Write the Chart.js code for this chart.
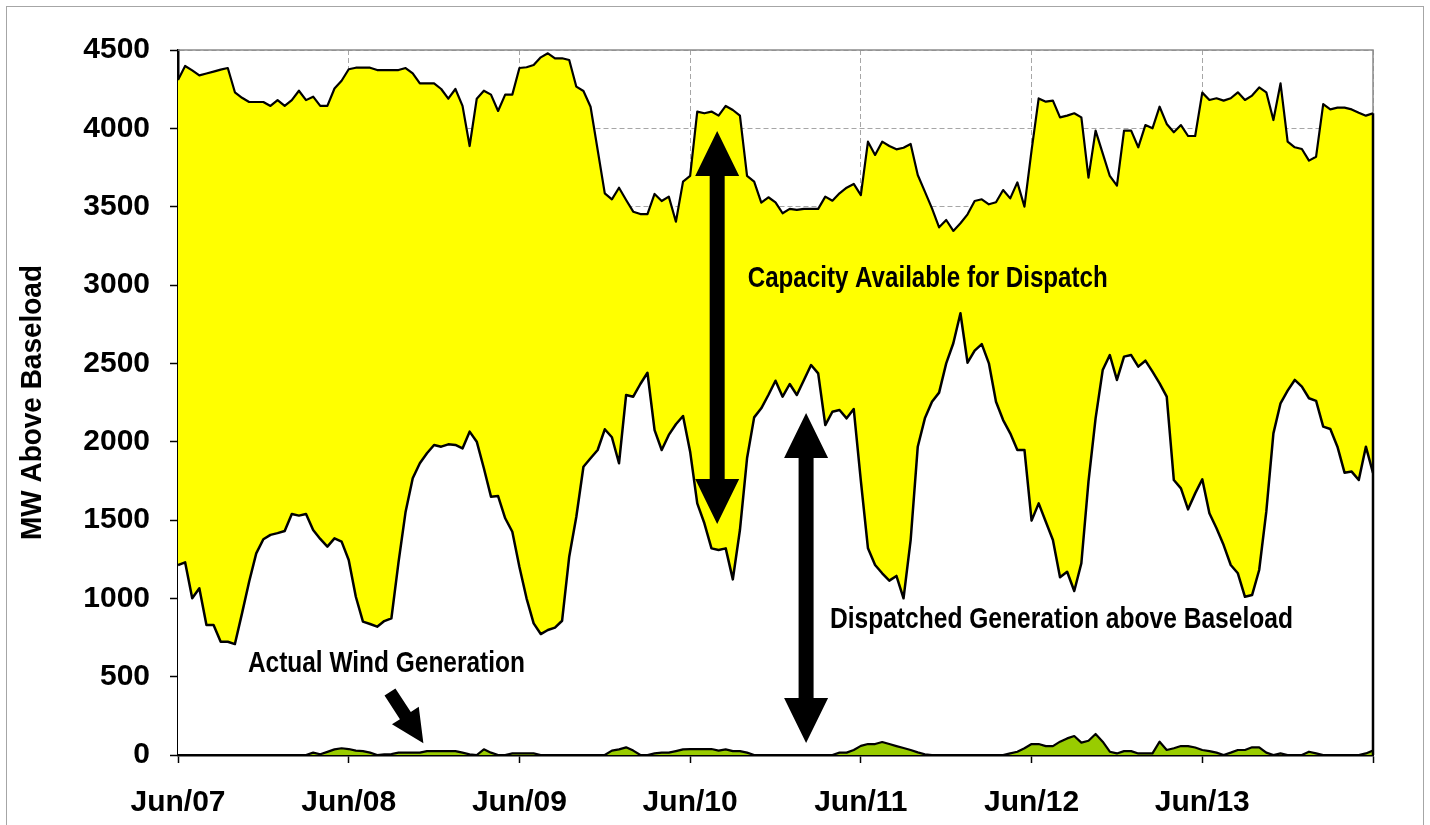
<!DOCTYPE html>
<html>
<head>
<meta charset="utf-8">
<title>MW Above Baseload</title>
<script src="https://cdn.jsdelivr.net/npm/chart.js@4.4.1/dist/chart.umd.min.js"></script>
<style>
  html, body { margin: 0; padding: 0; background: #fff; }
  #wrap { position: relative; width: 1430px; height: 825px; overflow: hidden; }
  #frame { position: absolute; left: 6px; top: 6px; width: 1418px; height: 840px; border: 1px solid #a6a6a6; box-sizing: border-box; }
  #chart { position: absolute; left: 0; top: 0; }
</style>
</head>
<body>
<div id="wrap">
  <div id="frame"></div>
  <canvas id="chart" width="1430" height="825"></canvas>
</div>
<script>
// ── Data: hourly values, Jun 7 00:00 → Jun 14 00:00 (MW above baseload) ──
const dayLabels = ['Jun/07', 'Jun/08', 'Jun/09', 'Jun/10', 'Jun/11', 'Jun/12', 'Jun/13'];

const capacity = [
  4308, 4398, 4370, 4338, 4350, 4362, 4375, 4385, 4230, 4195, 4168, 4168, 4168, 4143, 4180, 4143, 4180, 4240, 4180, 4202, 4143, 4143, 4254, 4304,
  4377, 4387, 4387, 4387, 4372, 4372, 4372, 4372, 4385, 4351, 4287, 4287, 4287, 4251, 4189, 4251, 4143, 3887, 4189, 4240, 4215, 4111, 4215, 4215,
  4385, 4390, 4404, 4453, 4479, 4447, 4447, 4436, 4266, 4238, 4138, 3862, 3585, 3547, 3621, 3543, 3468, 3453, 3453, 3581, 3536, 3564, 3404, 3660,
  3696, 4107, 4096, 4107, 4081, 4143, 4117, 4081, 3696, 3660, 3526, 3560, 3528, 3458, 3486, 3479, 3486, 3486, 3486, 3564, 3538, 3585, 3621, 3645,
  3574, 3915, 3830, 3915, 3887, 3866, 3876, 3900, 3702, 3596, 3489, 3368, 3415, 3345, 3394, 3451, 3536, 3547, 3515, 3528, 3606, 3553, 3655, 3500,
  3860, 4191, 4170, 4177, 4070, 4081, 4096, 4070, 3685, 3985, 3840, 3696, 3634, 3985, 3985, 3879, 4021, 4000, 4138, 4028, 3975, 4021, 3951, 3951,
  4228, 4181, 4192, 4177, 4192, 4230, 4181, 4209, 4261, 4230, 4053, 4287, 3915, 3879, 3868, 3794, 3819, 4155, 4121, 4132, 4132, 4121, 4100, 4081,
  4096
];

const dispatched = [
  1213, 1230, 1000, 1064, 830, 830, 723, 723, 708, 904, 1106, 1287, 1377, 1405, 1416, 1430, 1538, 1528, 1538, 1436, 1379, 1330, 1383, 1362,
  1245, 1010, 851, 836, 819, 855, 872, 1230, 1553, 1766, 1862, 1926, 1979, 1968, 1983, 1979, 1957, 2064, 2000, 1830, 1649, 1653, 1511, 1425,
  1200, 1000, 840, 772, 798, 813, 857, 1266, 1521, 1840, 1894, 1947, 2079, 2028, 1862, 2298, 2287, 2368, 2440, 2074, 1947, 2043, 2111, 2164,
  1936, 1606, 1479, 1319, 1309, 1319, 1121, 1436, 1894, 2155, 2213, 2298, 2389, 2287, 2368, 2298, 2394, 2489, 2436, 2106, 2191, 2202, 2149, 2208,
  1750, 1319, 1213, 1160, 1113, 1143, 1000, 1372, 1968, 2149, 2255, 2313, 2500, 2628, 2820, 2504, 2581, 2623, 2500, 2255, 2138, 2053, 1947, 1947,
  1496, 1606, 1489, 1372, 1134, 1170, 1047, 1224, 1745, 2149, 2457, 2553, 2394, 2543, 2553, 2479, 2517, 2447, 2372, 2287, 1755, 1702, 1568, 1670,
  1760, 1543, 1447, 1340, 1213, 1160, 1010, 1021, 1181, 1553, 2053, 2245, 2326, 2394, 2351, 2277, 2260, 2096, 2081, 1968, 1802, 1809, 1755, 1968,
  1800
];

const wind = [
  0, 0, 0, 0, 0, 0, 0, 0, 0, 0, 0, 0, 0, 0, 0, 0, 0, 0, 0, 15, 5, 20, 36, 43,
  38, 28, 25, 15, 0, 4, 6, 15, 15, 15, 15, 25, 25, 25, 25, 25, 15, 4, 0, 36, 15, 0, 0, 10,
  10, 10, 10, 0, 0, 0, 0, 0, 0, 0, 0, 0, 0, 28, 36, 49, 28, 0, 0, 10, 15, 15, 25, 36,
  38, 38, 38, 38, 28, 36, 25, 25, 15, 0, 0, 0, 0, 0, 0, 0, 0, 0, 0, 0, 0, 15, 15, 32,
  58, 70, 70, 83, 70, 57, 45, 32, 17, 4, 0, 0, 0, 0, 0, 0, 0, 0, 0, 0, 0, 10, 21, 43,
  70, 70, 57, 57, 85, 106, 121, 79, 91, 134, 85, 21, 10, 25, 25, 10, 10, 10, 85, 32, 43, 57, 57, 48,
  32, 25, 15, 0, 15, 32, 32, 49, 49, 15, 0, 10, 0, 0, 0, 21, 10, 0, 0, 0, 0, 0, 0, 10,
  28
];

// ── Annotations (placed in data coordinates: hour index / MW) ──
const notes = [
  { text: 'Capacity Available for Dispatch', x: 105.4, y: 2987, w: 360 },
  { text: 'Dispatched Generation above Baseload', x: 124.2, y: 811, w: 463 },
  { text: 'Actual Wind Generation', x: 29.3, y: 530, w: 277 }
];
const doubleArrows = [
  { x: 75.8, top: 3983, bottom: 1474 },
  { x: 88.3, top: 2183, bottom: 77 }
];
const windArrow = { x1: 29.8, y1: 402, x2: 34.5, y2: 75 };

const FONT = '"Liberation Sans", Arial, Helvetica, sans-serif';
const toPoints = arr => arr.map((v, i) => ({ x: i, y: v }));

// ── Drawing helpers ──
function arrow(ctx, x1, y1, x2, y2, shaftW, headL, headHalf) {
    const len = Math.hypot(x2 - x1, y2 - y1);
    ctx.save();
    ctx.translate(x1, y1);
    ctx.rotate(Math.atan2(y2 - y1, x2 - x1));
    ctx.beginPath();
    ctx.moveTo(0, -shaftW / 2);
    ctx.lineTo(len - headL, -shaftW / 2);
    ctx.lineTo(len - headL, -headHalf);
    ctx.lineTo(len, 0);
    ctx.lineTo(len - headL, headHalf);
    ctx.lineTo(len - headL, shaftW / 2);
    ctx.lineTo(0, shaftW / 2);
    ctx.closePath();
    ctx.fillStyle = '#000';
    ctx.fill();
    ctx.restore();
}

// vertical arrow with a head at both ends, one polygon
function doubleArrow(ctx, x, top, bottom, shaftW, headL, headHalf) {
    const s = shaftW / 2;
    ctx.save();
    ctx.beginPath();
    ctx.moveTo(x, top);
    ctx.lineTo(x + headHalf, top + headL);
    ctx.lineTo(x + s, top + headL);
    ctx.lineTo(x + s, bottom - headL);
    ctx.lineTo(x + headHalf, bottom - headL);
    ctx.lineTo(x, bottom);
    ctx.lineTo(x - headHalf, bottom - headL);
    ctx.lineTo(x - s, bottom - headL);
    ctx.lineTo(x - s, top + headL);
    ctx.lineTo(x - headHalf, top + headL);
    ctx.closePath();
    ctx.fillStyle = '#000';
    ctx.fill();
    ctx.restore();
}

function fittedText(ctx, text, cx, cy, width, size, rotate) {
    ctx.save();
    ctx.font = 'bold ' + size + 'px ' + FONT;
    const m = ctx.measureText(text).width;
    ctx.translate(cx, cy);
    if (rotate) ctx.rotate(-Math.PI / 2);
    ctx.scale(width / m, 1);
    ctx.fillStyle = '#000';
    ctx.textAlign = 'center';
    ctx.textBaseline = rotate ? 'middle' : 'alphabetic';
    ctx.fillText(text, 0, 0);
    ctx.restore();
}

const overlay = {
    id: 'overlay',
    beforeDatasetsDraw(chart) {
        const { ctx, chartArea: a } = chart;
        // grey frame on top and right of plot area
        ctx.save();
        ctx.strokeStyle = '#8c8c8c';
        ctx.lineWidth = 1.5;
        ctx.beginPath();
        ctx.moveTo(a.left, a.top);
        ctx.lineTo(a.right, a.top);
        ctx.lineTo(a.right, a.bottom);
        ctx.stroke();
        ctx.restore();
    },
    afterDatasetsDraw(chart) {
        const { ctx, chartArea: a } = chart;
        const xs = chart.scales.x, ys = chart.scales.y;
        const last = capacity.length - 1;

        // closing edge of the areas on the right
        ctx.save();
        ctx.strokeStyle = '#000';
        ctx.lineWidth = 2.5;
        ctx.beginPath();
        ctx.moveTo(xs.getPixelForValue(last), ys.getPixelForValue(capacity[last]));
        ctx.lineTo(xs.getPixelForValue(last), ys.getPixelForValue(0));
        ctx.stroke();
        ctx.restore();

        doubleArrows.forEach(d => {
            doubleArrow(ctx, xs.getPixelForValue(d.x),
                ys.getPixelForValue(d.top), ys.getPixelForValue(d.bottom), 15, 45, 22);
        });
        arrow(ctx,
            xs.getPixelForValue(windArrow.x1), ys.getPixelForValue(windArrow.y1),
            xs.getPixelForValue(windArrow.x2), ys.getPixelForValue(windArrow.y2),
            13, 33, 16);

        notes.forEach(n => {
            fittedText(ctx, n.text, xs.getPixelForValue(n.x), ys.getPixelForValue(n.y), n.w, 30, false);
        });

        // y axis title
        fittedText(ctx, 'MW Above Baseload', 33, (a.top + a.bottom) / 2, 275, 30, true);
    }
};

// ── Chart ──
const chart = new Chart(document.getElementById('chart').getContext('2d'), {
    type: 'line',
    data: {
        datasets: [
            { label: 'Capacity Available for Dispatch', data: toPoints(capacity), order: 3, fill: 'origin',
              backgroundColor: '#FFFF00', borderColor: '#000', borderWidth: 2.2 },
            { label: 'Dispatched Generation above Baseload', data: toPoints(dispatched), order: 2, fill: 'origin',
              backgroundColor: '#FFFFFF', borderColor: '#000', borderWidth: 2.5 },
            { label: 'Actual Wind Generation', data: toPoints(wind), order: 1, fill: 'origin',
              backgroundColor: '#99CC00', borderColor: '#000', borderWidth: 2.2 }
        ]
    },
    options: {
        responsive: false,
        animation: false,
        layout: { padding: { top: 50, right: 57, left: 0, bottom: 0 } },
        elements: {
            point: { radius: 0, hoverRadius: 0 },
            line: { tension: 0, borderJoinStyle: 'round' }
        },
        plugins: { legend: { display: false }, tooltip: { enabled: false } },
        scales: {
            x: {
                type: 'linear', min: 0, max: capacity.length - 1,
                afterFit: s => { s.height = 70; },
                ticks: {
                    stepSize: 24, autoSkip: false, maxRotation: 0, padding: 22,
                    color: '#000', font: { family: FONT, size: 30, weight: 'bold' },
                    callback: v => dayLabels[v / 24] || ''
                },
                grid: { color: '#a6a6a6', lineWidth: 1, tickColor: '#000', tickLength: 8, tickWidth: 1.5 },
                border: { display: true, color: '#000', width: 2.5, dash: [5, 3] }
            },
            y: {
                min: 0, max: 4500,
                afterFit: s => { s.width = 178; },
                ticks: {
                    stepSize: 500, padding: 20,
                    color: '#000', font: { family: FONT, size: 30, weight: 'bold' },
                    callback: v => String(v)
                },
                grid: { color: '#a6a6a6', lineWidth: 1, tickColor: '#000', tickLength: 8, tickWidth: 1.5 },
                border: { display: true, color: '#000', width: 2.5, dash: [5, 3] }
            }
        }
    },
    plugins: [overlay]
});
</script>
</body>
</html>
